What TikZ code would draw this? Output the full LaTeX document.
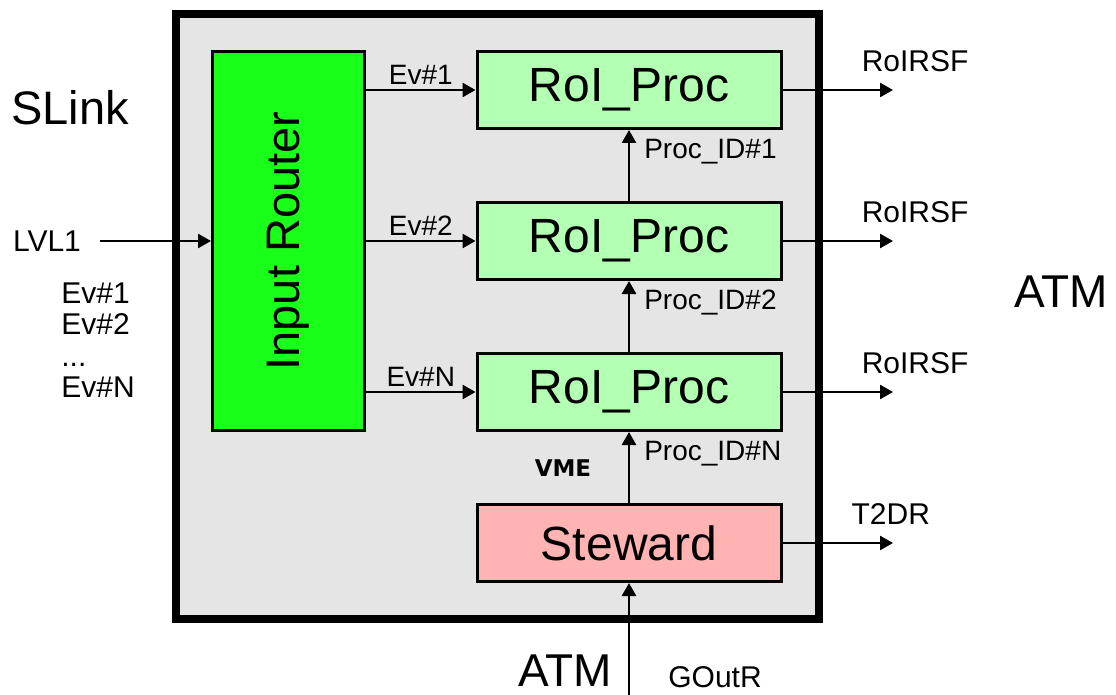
\documentclass[tikz,border=0pt]{standalone}
\usepackage{fontspec}
\setmainfont{Liberation Sans}
\newfontfamily\vmefont{DejaVu Sans}
\usepackage{xcolor}
\usetikzlibrary{arrows.meta, positioning}
\definecolor{boardgray}{RGB}{229,229,229}
\definecolor{routergreen}{RGB}{26,255,26}
\definecolor{procgreen}{RGB}{179,255,179}
\definecolor{stewardpink}{RGB}{255,179,179}
\newcommand{\fs}[1]{\fontsize{#1}{#1}\selectfont}

\begin{document}
\begin{tikzpicture}[
  x=1pt, y=-1pt,
  >={Triangle[length=13pt, width=14pt]},
  every node/.style={font=\fs{30}},
  board/.style={draw, line width=8pt, fill=boardgray, minimum width=643pt, minimum height=605pt},
  router/.style={draw, line width=3pt, fill=routergreen, minimum width=378pt, minimum height=152pt,
                 font=\fs{47}, rotate=90},
  proc/.style={draw, line width=3pt, fill=procgreen, minimum width=304pt, minimum height=77pt,
               font=\fs{48}},
  steward/.style={proc, fill=stewardpink},
  link/.style={->, line width=2.6pt},
  lbl/.style={font=\fs{28}, inner sep=4pt},
  idlbl/.style={lbl, inner sep=14pt}
]
\useasboundingbox (0,0) rectangle (1116,695);
\node[board] (board) at (497,316.5) {};
\node[router] (router) at (288.5,241) {Input Router};
\node[proc] (proc1) at (629,90) {RoI\_Proc};
\node[proc] (proc2) at (629,241) {RoI\_Proc};
\node[proc] (proc3) at (629,392) {RoI\_Proc};
\node[steward] (steward) at (629,543) {Steward};

\node[font=\fs{47}] (slink) at (70,108) {SLink};
\node[inner sep=0pt] (lvl) at (47,241) {LVL1};
\node[align=left, font=\fontsize{30}{31.5}\selectfont] (evlist) at (98,340) {Ev\#1\\Ev\#2\\...\\Ev\#N};
\node[font=\fs{46}] (atmright) at (1061,292) {ATM};
\node[font=\fs{46}] (atmbottom) at (565,671) {ATM};
\node (goutr) at (715,677) {GOutR};
\node[font=\vmefont\bfseries\fs{23}] (vme) at (563,468) {VME};

\coordinate (lvlstart) at (100,241);
\coordinate (out1) at (893,90);
\coordinate (out2) at (893,241);
\coordinate (out3) at (893,392);
\coordinate (out4) at (893,543);
\coordinate (atmin) at (629,695);

\draw[link] (lvlstart) -- (router.north |- lvl);
\draw[link] (router.south |- proc1) -- node[lbl, above]{Ev\#1} (proc1.west);
\draw[link] (router.south |- proc2) -- node[lbl, above]{Ev\#2} (proc2.west);
\draw[link] (router.south |- proc3) -- node[lbl, above]{Ev\#N} (proc3.west);

\draw[link] (proc1.east) -- (out1) node[above=14pt, pos=1.2] (rsf1) {RoIRSF};
\draw[link] (proc2.east) -- (out2) node[above=14pt, pos=1.2] (rsf2) {RoIRSF};
\draw[link] (proc3.east) -- (out3) node[above=14pt, pos=1.2] (rsf3) {RoIRSF};
\draw[link] (steward.east) -- (out4) node[above=14pt, pos=0.98] (t2dr) {T2DR};

\draw[link] (proc2.north) -- node[idlbl, right, pos=0.7]{Proc\_ID\#1} (proc1.south);
\draw[link] (proc3.north) -- node[idlbl, right, pos=0.7]{Proc\_ID\#2} (proc2.south);
\draw[link] (steward.north) -- node[idlbl, right, pos=0.7]{Proc\_ID\#N} (proc3.south);
\draw[link] (atmin) -- (steward.south);
\end{tikzpicture}
\end{document}
